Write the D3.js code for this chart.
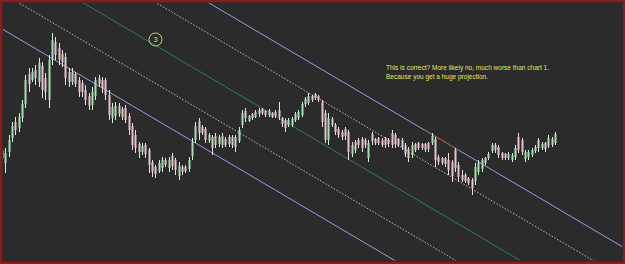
<!DOCTYPE html>
<html>
<head>
<meta charset="utf-8">
<script src="https://cdn.jsdelivr.net/npm/d3@7"></script>
<style>
html,body{margin:0;padding:0;background:#2b2b2b;}
svg{display:block;}
</style>
</head>
<body>
<svg id="chart" width="625" height="264"></svg>
<script>
// ---- DATA ----
const opens  = [50,37,48,62,78,72,82,96,126,120,130,118,134,122,100,140,158,152,146,143,128,118,126,120,117,110,104,95,104,122,120,120,105,82,94,86,91,92,84,74,65,56,48,55,50,38,33,29,32,40,32,44,40,24,33,33,31,44,60,79,73,71,59,63,55,63,55,61,63,55,63,59,75,89,79,86,83,90,91,89,85,87,88,90,82,80,75,75,80,82,85,101,97,104,106,104,98,87,60,81,75,71,68,71,68,46,58,60,61,60,42,66,61,62,60,61,60,67,65,61,60,55,51,45,56,57,56,56,57,57,61,43,42,42,40,38,50,35,25,25,22,20,19,28,31,42,42,49,55,53,47,46,42,40,43,63,60,41,43,45,49,60,52,57,54,61,57];
const highs  = [53,52,65,78,83,87,100,125,132,132,135,142,138,127,145,167,163,157,150,147,132,132,128,123,120,115,107,113,123,125,123,122,110,97,98,97,93,95,87,77,70,58,57,57,52,40,35,40,43,42,43,47,42,38,35,35,43,62,78,82,75,73,67,65,67,65,67,63,65,65,65,73,90,92,85,87,90,92,92,90,91,88,90,98,83,82,82,83,88,90,98,103,107,105,107,105,100,90,87,83,77,73,70,73,70,58,60,62,63,62,60,68,62,63,62,63,62,70,67,62,62,57,53,58,57,58,57,57,58,67,63,45,43,43,47,40,52,38,30,27,23,22,37,40,42,43,48,57,57,55,48,47,48,47,55,67,62,50,50,52,55,62,58,58,65,63,68];
const lows   = [38,27,43,58,65,68,78,92,108,118,115,113,102,100,92,135,140,135,133,115,113,115,113,103,103,95,90,90,100,113,107,100,80,77,80,83,80,77,65,50,47,42,45,42,27,23,22,27,28,33,28,30,25,20,25,27,28,40,57,60,65,57,57,45,52,53,52,53,53,52,48,57,72,78,78,80,82,83,85,83,83,82,82,80,73,68,73,73,78,80,83,93,95,98,100,98,73,57,55,73,65,62,60,60,40,43,47,52,48,52,38,55,55,55,53,52,53,52,52,53,50,43,38,42,48,50,50,48,48,55,33,35,35,33,25,18,28,18,18,17,15,5,15,25,28,35,40,47,47,42,40,40,40,38,40,47,45,38,40,43,47,48,50,48,52,53,55];
const closes = [42,47,60,74,70,83,96,120,116,128,122,137,110,108,140,160,145,140,138,122,118,128,116,108,108,100,94,108,120,116,112,105,85,93,84,94,83,80,70,55,52,48,54,46,35,28,26,37,40,35,40,34,30,34,28,29,40,58,74,67,67,60,65,52,64,56,64,55,56,63,53,70,87,82,84,82,88,86,87,85,89,83,84,83,76,72,80,81,86,88,96,96,104,100,102,100,78,60,82,75,68,65,63,64,48,55,50,55,52,55,57,59,57,57,55,55,56,55,56,55,53,46,42,55,50,52,52,50,51,64,40,38,37,36,30,24,32,23,20,19,17,12,33,37,40,37,46,55,50,45,42,42,46,45,52,50,48,48,48,50,53,52,56,51,62,55,66];

// channel lines: [index, price] start and end
const channelLines = [
  {name: "lowerLine",   kind: "solid",  start: [-3, 177], end: [195, -212]},
  {name: "lowerDotted", kind: "dotted", start: [-3, 213], end: [195, -176]},
  {name: "median",      kind: "median", start: [-3, 251], end: [195, -138]},
  {name: "upperDotted", kind: "dotted", start: [-3, 294], end: [195, -95]},
  {name: "upperLine",   kind: "solid",  start: [-3, 325], end: [195, -64]}
];
const highlightSegment = {start: [127, 70], end: [137, 50]};

const noteLines = [
  "This is correct? More likely no, much worse than chart 1.",
  "Because you get a huge projection."
];
const waveLabel = "3";

// ---- CHART ----
const W = 625, H = 264;
const svg = d3.select("#chart");

svg.append("rect").attr("x",0).attr("y",0).attr("width",W).attr("height",H).attr("fill","#2b2b2b");

const x = d3.scaleLinear().domain([0, opens.length - 1]).range([2, 555]);
const y = d3.scaleLinear().domain([-64, 200]).range([H, 0]);

const candles = opens.map((o, i) => ({i, o, h: highs[i], l: lows[i], c: closes[i]}));

svg.append("defs").append("clipPath").attr("id","clip")
  .append("rect").attr("x",2).attr("y",2).attr("width",W-4).attr("height",H-5);
const plot = svg.append("g").attr("clip-path", "url(#clip)");

const styleFor = {
  solid:  {stroke: "#a0a0ec", width: 1, dash: null, op: 0.95},
  dotted: {stroke: "#d6d6d6", width: 0.9, dash: "1.6,1.6", op: 0.9},
  median: {stroke: "#2f7a68", width: 1, dash: null, op: 1}
};

const lineGen = d3.line().x(d => x(d[0])).y(d => y(d[1]));

plot.selectAll("path.ch").data(channelLines).join("path")
  .attr("class","ch")
  .attr("d", d => lineGen([d.start, d.end]))
  .attr("fill","none")
  .attr("stroke", d => styleFor[d.kind].stroke)
  .attr("stroke-width", d => styleFor[d.kind].width)
  .attr("stroke-dasharray", d => styleFor[d.kind].dash)
  .attr("opacity", d => styleFor[d.kind].op);

plot.append("path")
  .attr("d", lineGen([highlightSegment.start, highlightSegment.end]))
  .attr("fill","none").attr("stroke","#8a4a38").attr("stroke-width",1.1);

// candles
const cg = plot.selectAll("g.candle").data(candles).join("g").attr("class","candle");
cg.append("line")
  .attr("x1", d => Math.round(x(d.i)) + 0.5).attr("x2", d => Math.round(x(d.i)) + 0.5)
  .attr("y1", d => y(d.h)).attr("y2", d => y(d.l))
  .attr("stroke", d => d.c >= d.o ? "#dcefdf" : "#eee0e2")
  .attr("stroke-width", 1);
cg.append("rect")
  .attr("x", d => Math.round(x(d.i)) - 0.5)
  .attr("width", 2)
  .attr("y", d => y(Math.max(d.o, d.c)))
  .attr("height", d => Math.max(1, Math.abs(y(d.o) - y(d.c))))
  .attr("fill", d => d.c >= d.o ? "#a6e0b2" : "#e6c4ca");

// wave label circle
const lab = svg.append("g").attr("transform","translate(155.5,39.5)");
lab.append("circle").attr("r",6.5).attr("fill","none").attr("stroke","#cdd23a").attr("stroke-width",1);
lab.append("text").attr("y",2.6).attr("text-anchor","middle")
  .attr("font-family","Liberation Sans, Arial, sans-serif").attr("font-size",7.5)
  .attr("fill","#d8dc48").text(waveLabel);

// note
const note = svg.append("g").attr("font-family","Liberation Sans, Arial, sans-serif")
  .attr("font-size",7.2).attr("fill","#e6e262");
const noteWidths = [163, 102];
note.selectAll("text").data(noteLines).join("text")
  .attr("x",386).attr("y",(d,i)=> 70.4 + i*8.6)
  .attr("textLength",(d,i)=>noteWidths[i]).attr("lengthAdjust","spacingAndGlyphs")
  .text(d=>d);

// frame
svg.append("rect").attr("x",1).attr("y",1).attr("width",W-2).attr("height",H-2)
  .attr("fill","none").attr("stroke","#8c1c1c").attr("stroke-width",2);
svg.append("rect").attr("x",2.5).attr("y",2.5).attr("width",W-5).attr("height",H-5.5)
  .attr("fill","none").attr("stroke","#3a2a2a").attr("stroke-width",1);
</script>
</body>
</html>
